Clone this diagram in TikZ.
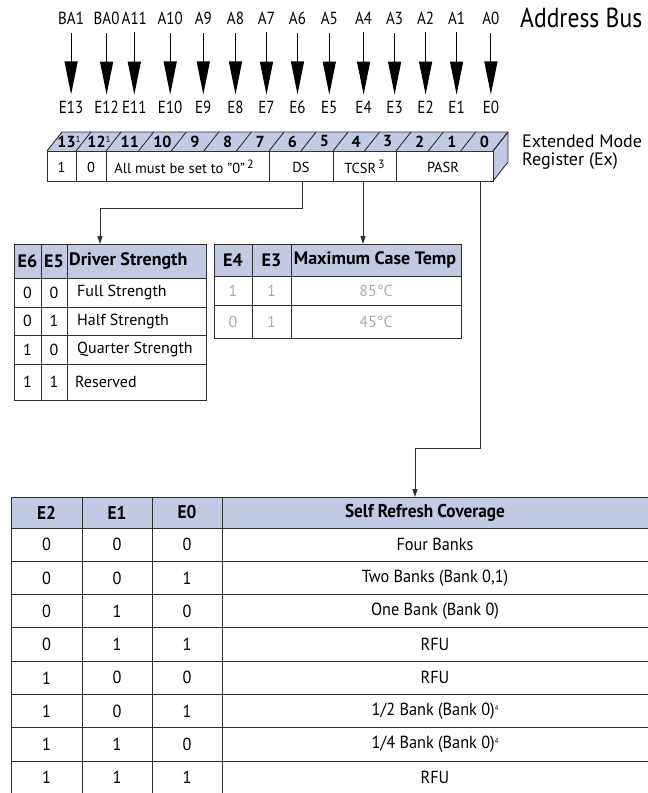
\documentclass[tikz,border=0pt]{standalone}
\usepackage{fontspec}
\setmainfont{PT Sans}
\newfontfamily\cond[FakeStretch=0.86]{PT Sans}
\newfontfamily\semicond[FakeStretch=0.93]{PT Sans}
\usetikzlibrary{arrows.meta}
\definecolor{hdr}{HTML}{C1C9E3}
\definecolor{gtext}{HTML}{ABABAB}
\definecolor{ln}{HTML}{2E2E2E}
\begin{document}
\begin{tikzpicture}[x=1pt,y=-1pt,
  addr/.style={font=\cond\fontsize{17.5}{17.5}\selectfont, inner sep=0pt},
  busl/.style={font=\cond\fontsize{27.5}{27.5}\selectfont, inner sep=0pt, anchor=west},
  bigarrow/.style={-{Triangle[width=13pt,length=33pt]}, line width=1.1pt},
  conn/.style={-{Triangle[width=5pt,length=8pt]}, line width=0.8pt, draw=ln},
  bitno/.style={font=\bfseries\fontsize{16}{16}\selectfont, inner sep=0pt},
  regt/.style={font=\fontsize{14.5}{14.5}\selectfont, inner sep=0pt},
  side/.style={font=\fontsize{18}{18}\selectfont, inner sep=0pt, anchor=west},
  tline/.style={draw=ln, line width=0.9pt},
  th/.style={font=\bfseries\fontsize{18}{18}\selectfont, inner sep=0pt},
  td/.style={font=\fontsize{16}{16}\selectfont, inner sep=0pt},
  tg/.style={font=\fontsize{16}{16}\selectfont, inner sep=0pt, text=gtext},
  th3/.style={font=\semicond\bfseries\fontsize{18.5}{18.5}\selectfont, inner sep=0pt},
  td3/.style={font=\semicond\fontsize{17.5}{17.5}\selectfont, inner sep=0pt}]
\useasboundingbox (0,0) rectangle (648,793);

% ---------- address bus ----------
\foreach \lab/\e/\x [count=\i] in {BA1/E13/71.1, BA0/E12/106.6, A11/E11/134.3, A10/E10/170.2, A9/E9/203.3, A8/E8/235.5, A7/E7/266.5, A6/E6/297.5, A5/E5/329.3, A4/E4/363.6, A3/E3/394.6, A2/E2/425.6, A1/E1/456.6, A0/E0/490.9}{
  \node[addr] (ab\i) at (\x,18) {\lab};
  \node[addr] (eb\i) at (\x,107) {\e};
  \draw[bigarrow, shorten <=8pt, shorten >=6pt] (ab\i) -- (eb\i);
}
\node[busl] (bus) at (520,18) {Address Bus};

% ---------- register ----------
\fill[hdr] (47,151) -- (62,132) -- (508,132) -- (493,151) -- cycle;
\fill[hdr] (493,151) -- (508,132) -- (508,162) -- (493,181) -- cycle;
\draw[tline] (47,151) -- (62,132) -- (508,132) -- (508,162) -- (493,181);
\draw[tline] (493,151) -- (508,132);
\draw[tline, fill=white] (47,151) rectangle (493,181);
\foreach \x in {76,106,269,333,396}{\draw[tline] (\x,151) -- (\x,181);}
\foreach \n/\xa/\xb in {11/106/138.6, 10/138.6/171.2, 9/171.2/203.8, 8/203.8/236.4, 7/236.4/269, 6/269/301, 5/301/333, 4/333/364.5, 3/364.5/396, 2/396/428.3, 1/428.3/460.7, 0/460.7/493}{
  \draw[tline] (\xb,151) -- ++(15,-19);
  \node[bitno] (bit\n) at ({(\xa+\xb)/2+7.5},141.5) {\n};
}
\draw[tline] (76,151) -- ++(15,-19);
\draw[tline] (106,151) -- ++(15,-19);
\node[bitno] (bit13) at (69,141.5) {13\raisebox{5pt}{\fontsize{9}{9}\selectfont\mdseries 1}};
\node[bitno] (bit12) at (99,141.5) {12\raisebox{5pt}{\fontsize{9}{9}\selectfont\mdseries 1}};

\node[regt] (r13) at (61.5,167) {1};
\node[regt] (r12) at (91,167) {0};
\node[regt] (rall) at (184,167) {All must be set to "0"\raisebox{5pt}{\fontsize{12}{12}\selectfont\,2}};
\node[regt] (rds) at (301,167) {DS};
\node[regt] (rtc) at (364.5,167) {TCSR\raisebox{5pt}{\fontsize{12}{12}\selectfont\,3}};
\node[regt] (rpa) at (443,167) {PASR};
\node[side] (ext1) at (522,141) {Extended Mode};
\node[side] (ext2) at (522,161) {Register (Ex)};

% ---------- connectors ----------
\coordinate (dsb) at (302,181);
\coordinate (dsk1) at (302,208);
\coordinate (dsk2) at (100,208);
\coordinate (tcb) at (363,181);
\coordinate (pab) at (480,181);
\coordinate (pak1) at (480,448);
\coordinate (pak2) at (415,448);

% ---------- table 1 : driver strength ----------
\fill[hdr] (14,244) rectangle (206,278);
\draw[tline] (14,244) rectangle (206,400);
\foreach \y in {278,307,335,364}{\draw[tline] (14,\y) -- (206,\y);}
\foreach \x in {41,67}{\draw[tline] (\x,244) -- (\x,400);}
\node[th] (d6) at (27.5,261) {E6};
\node[th] (d5) at (54,261) {E5};
\node[th, anchor=west] (dh) at (69,261) {Driver Strength};
\coordinate (t1top) at (100,244);
\foreach \a/\b/\t/\y/\xx [count=\i] in {0/0/Full Strength/292.5/77, 0/1/Half Strength/321/77, 1/0/Quarter Strength/349.5/77, 1/1/Reserved/382/75}{
  \node[td] (da\i) at (27.5,\y) {\a};
  \node[td] (db\i) at (54,\y) {\b};
  \node[td, anchor=west] (dc\i) at (\xx,\y) {\t};
}

% ---------- table 2 : max case temp ----------
\fill[hdr] (214,244) rectangle (461,276);
\draw[tline] (214,244) rectangle (461,338);
\foreach \y in {276,305}{\draw[tline] (214,\y) -- (461,\y);}
\foreach \x in {252,291}{\draw[tline] (\x,244) -- (\x,338);}
\node[th] (m4) at (233,260) {E4};
\node[th] (m3) at (271.5,260) {E3};
\node[th] (mh) at (375,260) {Maximum Case Temp};
\coordinate (t2top) at (363,244);
\foreach \a/\b/\t/\y [count=\i] in {1/1/85°C/290.5, 0/1/45°C/321.5}{
  \node[tg] (ma\i) at (233,\y) {\a};
  \node[tg] (mb\i) at (271.5,\y) {\b};
  \node[tg] (mc\i) at (376,\y) {\t};
}

% ---------- table 3 : self refresh coverage ----------
\fill[hdr] (11,497) rectangle (660,528);
\draw[tline] (11,800) -- (11,497) -- (660,497);
\foreach \y in {528,561.3,594.6,627.9,661.1,694.4,727.7,761}{\draw[tline] (11,\y) -- (660,\y);}
\foreach \x in {82,152,222}{\draw[tline] (\x,497) -- (\x,800);}
\node[th3] (s2) at (46.5,512.5) {E2};
\node[th3] (s1) at (117,512.5) {E1};
\node[th3] (s0) at (187,512.5) {E0};
\node[th3] (sh) at (425,512.5) {Self Refresh Coverage};
\coordinate (t3top) at (415,497);
\foreach \a/\b/\c/\t/\y [count=\i] in {
  0/0/0/Four Banks/544.6,
  0/0/1/{Two Banks (Bank 0,1)}/578,
  0/1/0/One Bank (Bank 0)/611.3,
  0/1/1/RFU/644.5,
  1/0/0/RFU/677.8,
  1/0/1/{1/2 Bank (Bank 0)\raisebox{5pt}{\fontsize{7}{7}\selectfont 4}}/711,
  1/1/0/{1/4 Bank (Bank 0)\raisebox{5pt}{\fontsize{7}{7}\selectfont 4}}/744.4,
  1/1/1/RFU/777}{
  \node[td3] (sa\i) at (46.5,\y) {\a};
  \node[td3] (sb\i) at (117,\y) {\b};
  \node[td3] (sc\i) at (187,\y) {\c};
  \node[td3] (sd\i) at (435,\y) {\t};
}

% connectors drawn last
\draw[conn] (dsb) -- (dsk1) -- (dsk2) -- (t1top);
\draw[conn] (tcb) -- (t2top);
\draw[conn] (pab) -- (pak1) -- (pak2) -- (t3top);
\end{tikzpicture}
\end{document}
